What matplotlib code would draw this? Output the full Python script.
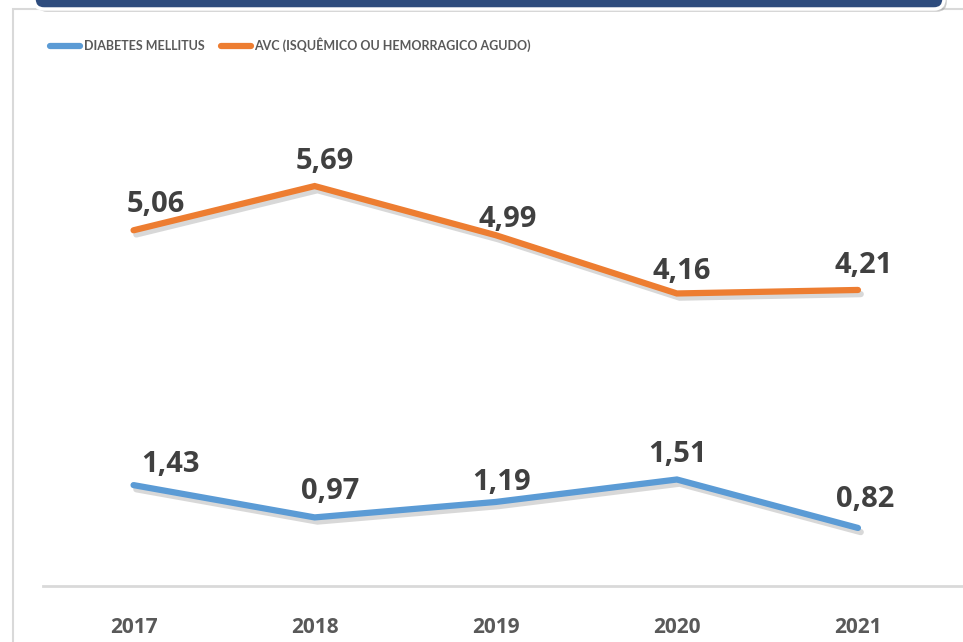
import matplotlib
matplotlib.use('Agg')
from matplotlib import pyplot as plt, rcParams
from matplotlib.patches import Rectangle, FancyBboxPatch
import matplotlib.patheffects as pe

rcParams['font.family'] = ['Open Sans', 'DejaVu Sans']

# dados
anos = ['2017', '2018', '2019', '2020', '2021']
diabetes = [1.43, 0.97, 1.19, 1.51, 0.82]
avc = [5.06, 5.69, 4.99, 4.16, 4.21]
rotulo_diabetes = 'DIABETES MELLITUS'
rotulo_avc = 'AVC (ISQUÊMICO OU HEMORRAGICO AGUDO)'

# deslocamento dos rótulos (pixels)
off_diabetes = [(37, 21), (15, 26), (6, 19), (1, 25), (7, 28)]
off_avc = [(22, 26), (10, 25), (12, 16), (5, 22), (6, 24)]

azul = '#5B9BD5'
laranja = '#ED7D31'
cinza_txt = '#404040'

fig = plt.figure(figsize=(9.63, 6.42), dpi=100)
W, H = 963, 642

# moldura e cabeçalho
fig.patches.append(Rectangle((13 / W, -0.05), 1.0, (H - 9) / H + 0.05, transform=fig.transFigure,
                             facecolor='none', edgecolor='#D9D9D9', lw=1.5, zorder=0))
fig.patches.append(FancyBboxPatch((34, H - 9), 910, 40, boxstyle='round,pad=0,rounding_size=10',
                                  transform=None, facecolor='#2E4C7E', edgecolor='white', lw=2.5,
                                  path_effects=[pe.SimplePatchShadow(offset=(2, -2), shadow_rgbFace='#999999', alpha=0.5), pe.Normal()],
                                  zorder=1))

ax = fig.add_axes([43 / W, (H - 585.5) / H, (W - 43) / W, 561.6 / H])
ax.patch.set_alpha(0)
x = list(range(len(anos)))

sombra = [pe.SimpleLineShadow(offset=(2, -3), shadow_color='#7F7F7F', alpha=0.3), pe.Normal()]
ax.plot(x, diabetes, color=azul, lw=4.5, solid_capstyle='round', solid_joinstyle='miter',
        label=rotulo_diabetes, path_effects=sombra)
ax.plot(x, avc, color=laranja, lw=4.5, solid_capstyle='round', solid_joinstyle='miter',
        label=rotulo_avc, path_effects=sombra)

for i in x:
    ax.annotate('{:.2f}'.format(diabetes[i]).replace('.', ','), (i, diabetes[i]), xytext=off_diabetes[i],
                textcoords='offset pixels', ha='center', va='center', fontsize=21, fontweight='bold', color=cinza_txt)
    ax.annotate('{:.2f}'.format(avc[i]).replace('.', ','), (i, avc[i]), xytext=off_avc[i],
                textcoords='offset pixels', ha='center', va='center', fontsize=21, fontweight='bold', color=cinza_txt)

ax.set_xlim(-0.5, 4.58)
ax.set_ylim(0, 8)
ax.set_xticks(x)
ax.set_xticklabels(anos, fontsize=15, fontweight='bold', color='#595959')
ax.tick_params(axis='x', length=0, pad=23)
ax.set_yticks([])
for s in ['top', 'right', 'left']:
    ax.spines[s].set_visible(False)
ax.spines['bottom'].set_color('#D9D9D9')
ax.spines['bottom'].set_linewidth(2)

leg = fig.legend(loc='center left', bbox_to_anchor=(50 / W, (H - 45) / H), ncol=2, frameon=False,
                 handlelength=2.4, handletextpad=0.3, columnspacing=1.3, borderpad=0, borderaxespad=0,
                 prop={'family': ['Lato', 'DejaVu Sans'], 'weight': 'bold', 'size': 9})
for t in leg.get_texts():
    t.set_color('#595959')
for h in leg.legend_handles:
    h.set_linewidth(4.5)
    h.set_solid_capstyle('round')
    h.set_path_effects([])

plt.savefig('out.png', dpi=100)
